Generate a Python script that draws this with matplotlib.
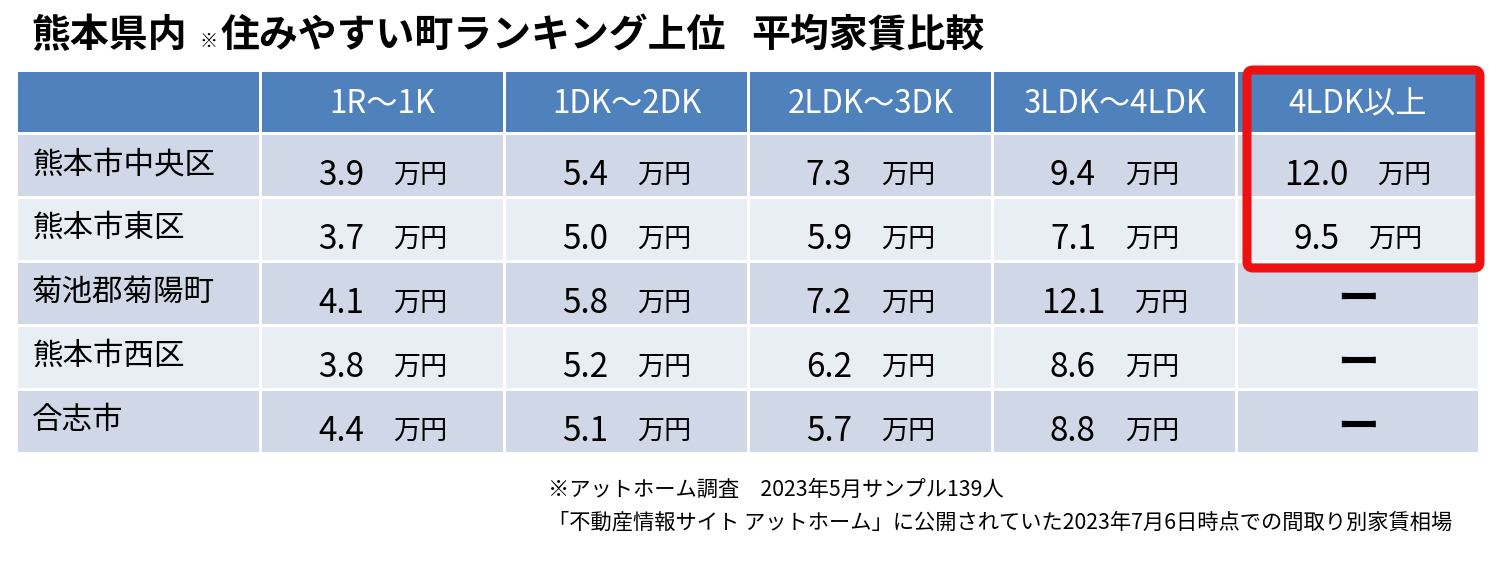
import matplotlib
matplotlib.use("Agg")
import matplotlib.pyplot as plt
from matplotlib.patches import Rectangle, FancyBboxPatch

plt.rcParams['font.family'] = ['Noto Sans CJK JP', 'DejaVu Sans']

title_a = "熊本県内"
title_note = "※"
title_b = "住みやすい町ランキング上位"
title_c = "平均家賃比較"
columns = ["1R～1K", "1DK～2DK", "2LDK～3DK", "3LDK～4LDK", "4LDK以上"]
areas = ["熊本市中央区", "熊本市東区", "菊池郡菊陽町", "熊本市西区", "合志市"]
rent_1r = [3.9, 3.7, 4.1, 3.8, 4.4]
rent_1dk = [5.4, 5.0, 5.8, 5.2, 5.1]
rent_2ldk = [7.3, 5.9, 7.2, 6.2, 5.7]
rent_3ldk = [9.4, 7.1, 12.1, 8.6, 8.8]
rent_4ldk = [12.0, 9.5, None, None, None]
unit = "万円"
notes = ["※アットホーム調査　2023年5月サンプル139人",
         "「不動産情報サイト アットホーム」に公開されていた2023年7月6日時点での間取り別家賃相場"]

fig = plt.figure(figsize=(15, 5.67), dpi=100)
ax = fig.add_axes([0, 0, 1, 1])
ax.set_xlim(0, 1500)
ax.set_ylim(567, 0)
ax.axis('off')
renderer = fig.canvas.get_renderer()

def width_px(t):
    bb = t.get_window_extent(renderer=renderer)
    return bb.width

# title
ax.text(31, 36, title_a, fontsize=28, fontweight='bold', va='center', ha='left')
ax.text(199, 41, title_note, fontsize=13, fontweight='bold', va='center', ha='left')
ax.text(221, 36, title_b, fontsize=28, fontweight='bold', va='center', ha='left')
ax.text(751, 36, title_c, fontsize=28, fontweight='bold', va='center', ha='left')

col_x = [18, 262, 506, 750, 994, 1238, 1481]
row_y = [72, 135, 199, 263, 327, 391, 455]
gap = 3
header_c = '#4F81BD'
odd_c = '#D0D8E8'
even_c = '#E9EDF4'

for r in range(6):
    for c in range(6):
        x0 = col_x[c]
        x1 = col_x[c + 1] - gap
        y0 = row_y[r]
        y1 = row_y[r + 1] - gap
        if r == 0:
            col = header_c
        else:
            col = odd_c if r % 2 == 1 else even_c
        ax.add_patch(Rectangle((x0, y0), x1 - x0, y1 - y0, facecolor=col, edgecolor='none'))

for c, name in enumerate(columns):
    cx = (col_x[c + 1] + col_x[c + 2] - gap) / 2
    ax.text(cx, 104, name, fontsize=22.5, color='white', va='center', ha='center')

table = [rent_1r, rent_1dk, rent_2ldk, rent_3ldk, rent_4ldk]
num_gap = 29
for r, area in enumerate(areas):
    yc = (row_y[r + 1] + row_y[r + 2] - gap) / 2
    ax.text(32, yc - 1, area, fontsize=22, va='center', ha='left')
    for c, vals in enumerate(table):
        cx = (col_x[c + 1] + col_x[c + 2] - gap) / 2
        v = vals[r]
        if v is None:
            ax.text(cx, yc + 6, "ー", fontsize=30, va='center', ha='center', fontweight='bold')
        else:
            tn = ax.text(0, yc + 10, f"{v:.1f}", fontsize=24, va='center', ha='left')
            tu = ax.text(0, yc + 10, unit, fontsize=19.5, va='center', ha='left')
            wn = width_px(tn)
            wu = width_px(tu)
            start = cx - (wn + num_gap + wu) / 2
            tn.set_x(start)
            tu.set_x(start + wn + num_gap)

# red highlight box
ax.add_patch(FancyBboxPatch((1247, 70), 233, 198, boxstyle="round,pad=0,rounding_size=6",
                            facecolor='none', edgecolor='#EE1111', linewidth=6.5))

ax.text(548, 490, notes[0], fontsize=15.3, va='center', ha='left')
ax.text(548, 523, notes[1], fontsize=15.3, va='center', ha='left')

fig.savefig("out.png", dpi=100)
